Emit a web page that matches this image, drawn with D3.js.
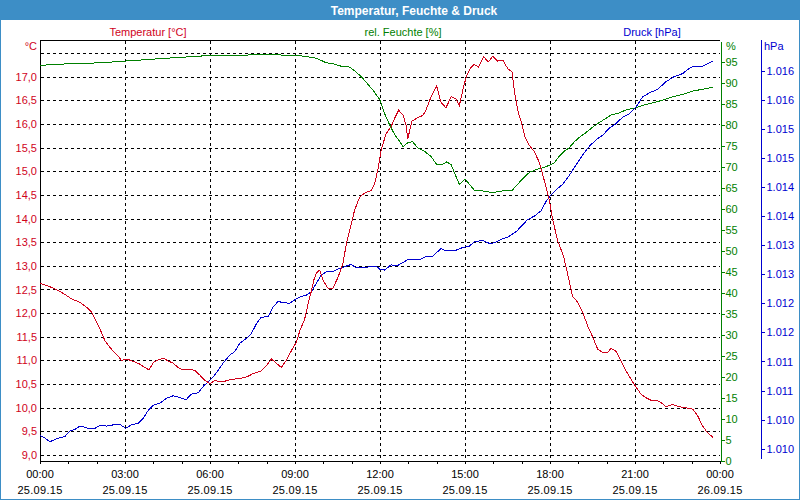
<!DOCTYPE html>
<html><head><meta charset="utf-8">
<script src="https://cdn.jsdelivr.net/npm/d3@7"></script>
<style>
body{margin:0;background:#fff;}
svg{display:block;font-family:"Liberation Sans",Arial,sans-serif;font-size:11px;}
</style></head>
<body><svg id="c" width="800" height="500"></svg>
<script>
// ---- data ----
const title = "Temperatur, Feuchte & Druck";
const seriesNames = ["Temperatur [°C]", "rel. Feuchte [%]", "Druck [hPa]"];
const unitLabels = ["°C", "%", "hPa"];

// [hour since 25.09.15 00:00, value]
const temperature = [
[0.00,12.63],[0.24,12.58],[0.47,12.53],[0.71,12.46],[0.94,12.37],[1.12,12.30],[1.41,12.23],[1.65,12.12],[1.82,12.02],[1.94,11.87],
[2.12,11.66],[2.29,11.42],[2.47,11.27],[2.70,11.13],[2.88,11.00],[3.06,11.03],[3.29,10.98],[3.53,10.92],[3.70,10.85],[3.85,10.80],
[4.00,10.96],[4.17,11.01],[4.35,11.05],[4.52,10.99],[4.70,10.94],[4.88,10.85],[5.05,10.80],[5.29,10.81],[5.46,10.79],[5.64,10.69],
[5.82,10.58],[5.99,10.51],[6.17,10.57],[6.46,10.55],[6.70,10.59],[7.05,10.62],[7.29,10.65],[7.52,10.72],[7.81,10.78],[7.99,10.89],
[8.17,11.03],[8.34,10.94],[8.52,10.85],[8.70,11.01],[8.93,11.27],[9.05,11.38],[9.17,11.63],[9.34,11.87],[9.46,12.19],[9.58,12.47],
[9.66,12.69],[9.75,12.84],[9.87,12.91],[9.99,12.69],[10.16,12.53],[10.34,12.53],[10.52,12.76],[10.69,13.04],[10.81,13.46],[10.99,13.89],
[11.10,14.17],[11.28,14.45],[11.46,14.54],[11.69,14.59],[11.81,14.73],[11.93,15.05],[12.04,15.44],[12.21,15.79],[12.39,15.94],[12.51,16.11],
[12.66,16.29],[12.82,16.18],[12.92,15.97],[12.98,15.69],[13.13,16.06],[13.33,16.13],[13.51,16.18],[13.62,16.29],[13.80,16.57],[14.00,16.80],
[14.15,16.46],[14.33,16.34],[14.51,16.58],[14.68,16.53],[14.80,16.39],[14.92,16.71],[15.04,16.99],[15.18,17.17],[15.33,17.26],[15.48,17.20],
[15.66,17.42],[15.82,17.31],[15.98,17.43],[16.15,17.33],[16.33,17.35],[16.51,17.17],[16.66,17.10],[16.74,16.71],[16.86,16.29],[17.00,16.01],
[17.12,15.72],[17.27,15.55],[17.45,15.41],[17.62,15.19],[17.80,14.80],[17.98,14.38],[18.09,13.99],[18.27,13.53],[18.47,13.22],[18.62,12.83],
[18.80,12.35],[18.98,12.23],[19.15,12.02],[19.33,11.73],[19.51,11.49],[19.68,11.24],[19.86,11.17],[20.04,11.17],[20.15,11.26],[20.33,11.19],
[20.51,10.99],[20.68,10.78],[20.86,10.60],[21.04,10.43],[21.21,10.29],[21.39,10.21],[21.56,10.16],[21.74,10.16],[21.92,10.11],[22.09,10.02],
[22.33,10.07],[22.56,10.02],[22.86,9.99],[23.04,9.97],[23.21,9.83],[23.39,9.61],[23.56,9.47],[23.76,9.37]
];
const humidity = [
[0.00,94.2],[1.06,94.6],[2.12,94.8],[2.94,95.2],[3.41,95.4],[4.23,95.8],[4.94,96.1],[5.64,96.4],[6.11,96.6],[7.05,96.6],
[7.99,96.8],[8.23,96.7],[9.05,96.6],[9.40,96.3],[9.75,95.9],[10.11,94.8],[10.34,94.6],[10.63,94.0],[10.93,93.8],[11.10,92.9],
[11.34,91.5],[11.52,90.1],[11.75,88.3],[11.99,86.1],[12.15,82.9],[12.33,80.2],[12.51,77.8],[12.68,76.2],[12.82,74.8],[12.98,75.8],
[13.15,76.0],[13.33,74.6],[13.56,73.8],[13.80,72.5],[14.00,70.6],[14.19,70.6],[14.35,71.2],[14.51,70.6],[14.62,68.7],[14.80,65.9],
[15.01,67.1],[15.15,65.9],[15.33,64.5],[15.62,64.3],[15.98,63.9],[16.33,64.3],[16.66,64.4],[16.80,65.5],[17.04,67.2],[17.27,68.7],
[17.51,69.4],[17.74,69.8],[17.98,70.4],[18.15,71.0],[18.33,72.6],[18.51,73.8],[18.68,74.6],[18.86,76.0],[19.04,77.1],[19.27,78.2],
[19.51,79.5],[19.74,80.6],[19.98,81.6],[20.15,82.4],[20.45,82.9],[20.68,83.6],[21.04,84.1],[21.39,84.9],[21.86,85.7],[22.33,86.7],
[22.68,87.3],[23.04,88.1],[23.39,88.5],[23.76,89.0]
];
const pressure = [
[0.00,1009.98],[0.18,1009.93],[0.35,1009.87],[0.53,1009.91],[0.71,1009.94],[0.88,1009.96],[1.06,1010.06],[1.23,1010.08],[1.41,1010.14],[1.59,1010.12],
[1.76,1010.09],[1.94,1010.10],[2.12,1010.15],[2.35,1010.14],[2.59,1010.16],[2.82,1010.17],[3.02,1010.10],[3.23,1010.16],[3.47,1010.19],[3.64,1010.27],
[3.82,1010.41],[4.00,1010.50],[4.23,1010.53],[4.47,1010.62],[4.70,1010.66],[4.94,1010.63],[5.15,1010.59],[5.35,1010.69],[5.58,1010.71],[5.76,1010.82],
[5.93,1010.90],[6.11,1010.98],[6.29,1011.10],[6.46,1011.22],[6.70,1011.36],[6.87,1011.42],[7.05,1011.56],[7.29,1011.65],[7.46,1011.73],[7.64,1011.90],
[7.81,1012.01],[8.05,1012.02],[8.23,1012.19],[8.40,1012.28],[8.64,1012.26],[8.81,1012.25],[8.99,1012.31],[9.17,1012.36],[9.40,1012.39],[9.58,1012.45],
[9.75,1012.59],[9.93,1012.74],[10.11,1012.79],[10.34,1012.80],[10.58,1012.85],[10.81,1012.89],[10.99,1012.92],[11.16,1012.86],[11.46,1012.86],[11.69,1012.89],
[11.87,1012.89],[11.98,1012.84],[12.15,1012.82],[12.39,1012.91],[12.62,1012.90],[12.98,1013.00],[13.39,1013.00],[13.62,1013.05],[13.84,1013.05],[14.15,1013.19],
[14.33,1013.15],[14.62,1013.15],[14.92,1013.21],[15.15,1013.23],[15.33,1013.31],[15.62,1013.33],[15.86,1013.28],[16.04,1013.29],[16.27,1013.35],[16.51,1013.39],
[16.80,1013.48],[17.04,1013.60],[17.21,1013.69],[17.45,1013.75],[17.68,1013.84],[17.86,1014.00],[17.98,1014.08],[18.21,1014.20],[18.45,1014.30],[18.68,1014.45],
[18.92,1014.63],[19.15,1014.80],[19.39,1014.95],[19.62,1015.06],[19.86,1015.14],[20.09,1015.26],[20.33,1015.34],[20.56,1015.45],[20.80,1015.51],[21.04,1015.63],
[21.27,1015.80],[21.51,1015.87],[21.80,1015.93],[22.09,1016.06],[22.39,1016.15],[22.68,1016.20],[22.92,1016.29],[23.09,1016.33],[23.39,1016.33],[23.56,1016.37],
[23.76,1016.42]
];

const tempGrid = [9.0,9.5,10.0,10.5,11.0,11.5,12.0,12.5,13.0,13.5,14.0,14.5,15.0,15.5,16.0,16.5,17.0,17.5];
const tempTicks = [9.0,9.5,10.0,10.5,11.0,11.5,12.0,12.5,13.0,13.5,14.0,14.5,15.0,15.5,16.0,16.5,17.0];
const tempLabels = ["9,0","9,5","10,0","10,5","11,0","11,5","12,0","12,5","13,0","13,5","14,0","14,5","15,0","15,5","16,0","16,5","17,0"];
const humTicks = [0,5,10,15,20,25,30,35,40,45,50,55,60,65,70,75,80,85,90,95];
const pressTicks = [1009.75,1010.25,1010.75,1011.25,1011.75,1012.25,1012.75,1013.25,1013.75,1014.25,1014.75,1015.25,1015.75,1016.25];
const pressLabels = ["1.010","1.010","1.011","1.011","1.012","1.012","1.013","1.013","1.014","1.014","1.015","1.015","1.016","1.016"];
const hourTicks = [0,1,2,3,4,5,6,7,8,9,10,11,12,13,14,15,16,17,18,19,20,21,22,23,24];
const majorHours = [0,3,6,9,12,15,18,21,24];
const timeLabels = ["00:00","03:00","06:00","09:00","12:00","15:00","18:00","21:00","00:00"];
const dateLabels = ["25.09.15","25.09.15","25.09.15","25.09.15","25.09.15","25.09.15","25.09.15","25.09.15","26.09.15"];

// ---- styles ----
const frameBlue = "#3d8ec6", cT = "#d0021b", cH = "#008000", cP = "#0000d0";
const svg = d3.select("#c");

const x = d3.scaleLinear().domain([0,24]).range([40,720]);
const yT = d3.scaleLinear().domain([9.0,17.5]).range([455,53]);
const yH = d3.scaleLinear().domain([0,100]).range([461,41]);
const yP = d3.scaleLinear().domain([1009.75,1016.25]).range([448.7,70.7]);

svg.append("rect").attr("x",0).attr("y",0).attr("width",800).attr("height",500).attr("fill","#fff");
svg.append("rect").attr("x",0).attr("y",0).attr("width",800).attr("height",20).attr("fill",frameBlue);
svg.append("rect").attr("x",0.5).attr("y",0.5).attr("width",799).attr("height",499).attr("fill","none").attr("stroke",frameBlue);
svg.append("text").attr("x",414).attr("y",14.5).attr("text-anchor","middle").attr("fill","#fff")
  .style("font-weight","bold").style("font-size","12px").text(title);

// header labels
const headerX = [148, 403, 652], headerC = [cT, cH, cP];
seriesNames.forEach((s,i)=>svg.append("text").attr("x",headerX[i]).attr("y",36).attr("text-anchor","middle").attr("fill",headerC[i]).text(s));
svg.append("text").attr("x",37).attr("y",50).attr("text-anchor","end").attr("fill",cT).text(unitLabels[0]);
svg.append("text").attr("x",726).attr("y",50).attr("fill",cH).text(unitLabels[1]);
svg.append("text").attr("x",764).attr("y",50).attr("fill",cP).text(unitLabels[2]);

// grid
const grid = svg.append("g").attr("stroke","#000").attr("stroke-dasharray","3,3").attr("shape-rendering","crispEdges");
tempGrid.forEach(v=>{const yy=Math.round(yT(v))+0.5; grid.append("line").attr("x1",41).attr("x2",720).attr("y1",yy).attr("y2",yy);});
majorHours.slice(1,-1).forEach(h=>{const xx=Math.round(x(h))+0.5; grid.append("line").attr("x1",xx).attr("x2",xx).attr("y1",41).attr("y2",460);});

// frame lines
const fr = svg.append("g").attr("stroke","#000").attr("shape-rendering","crispEdges");
fr.append("line").attr("x1",40).attr("x2",720).attr("y1",40.5).attr("y2",40.5);
fr.append("line").attr("x1",40.5).attr("x2",40.5).attr("y1",40).attr("y2",461);

// bottom axis
const gx = svg.append("g").attr("transform","translate(0,460.5)")
  .call(d3.axisBottom(x).tickValues(hourTicks).tickSize(3).tickSizeOuter(0).tickFormat(""));
gx.select(".domain").attr("stroke","#000").attr("shape-rendering","crispEdges");
gx.selectAll(".tick line").attr("stroke","#000").attr("shape-rendering","crispEdges");
majorHours.forEach((h,i)=>{
  svg.append("text").attr("x",x(h)).attr("y",478).attr("text-anchor","middle").attr("fill","#000").text(timeLabels[i]);
  svg.append("text").attr("x",x(h)).attr("y",494).attr("text-anchor","middle").attr("fill","#000").attr("letter-spacing","0.3").text(dateLabels[i]);
});

// left axis labels
const fmtT = v => tempLabels[tempTicks.indexOf(v)];
const gl = svg.append("g").attr("transform","translate(40,0)")
  .call(d3.axisLeft(yT).tickValues(tempTicks).tickSize(0).tickPadding(3).tickFormat(fmtT));
gl.select(".domain").remove();
gl.selectAll("text").attr("fill",cT).style("font-size","11px").style("font-family","'Liberation Sans',Arial,sans-serif");

// humidity axis
const gh = svg.append("g").attr("transform","translate(720.5,0)")
  .call(d3.axisRight(yH).tickValues(humTicks).tickSize(4).tickSizeOuter(0).tickPadding(1));
gh.select(".domain").attr("stroke",cH).attr("shape-rendering","crispEdges");
gh.selectAll(".tick line").attr("stroke",cH).attr("shape-rendering","crispEdges");
gh.selectAll("text").attr("fill",cH).style("font-size","11px").style("font-family","'Liberation Sans',Arial,sans-serif");

// pressure axis
const gp = svg.append("g").attr("transform","translate(761.5,0)")
  .call(d3.axisRight(yP).tickValues(pressTicks).tickSize(3).tickPadding(2).tickFormat((d,i)=>pressLabels[i]));
gp.select(".domain").remove();
gp.append("line").attr("x1",0).attr("x2",0).attr("y1",40).attr("y2",459).attr("stroke",cP).attr("shape-rendering","crispEdges");
gp.selectAll(".tick line").attr("stroke",cP).attr("shape-rendering","crispEdges");
gp.selectAll("text").attr("fill",cP).style("font-size","11px").style("font-family","'Liberation Sans',Arial,sans-serif");

// lines
const mk = (ys) => d3.line().x(d=>x(d[0])).y(d=>ys(d[1]));
svg.append("path").datum(humidity).attr("d",mk(yH)).attr("fill","none").attr("stroke",cH).attr("stroke-width",1).attr("shape-rendering","crispEdges");
svg.append("path").datum(pressure).attr("d",mk(yP)).attr("fill","none").attr("stroke",cP).attr("stroke-width",1).attr("shape-rendering","crispEdges");
svg.append("path").datum(temperature).attr("d",mk(yT)).attr("fill","none").attr("stroke",cT).attr("stroke-width",1).attr("shape-rendering","crispEdges");
</script></body></html>
